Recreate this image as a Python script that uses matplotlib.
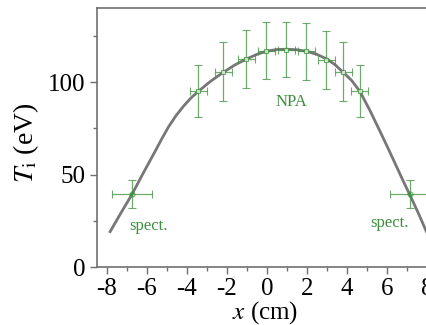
import matplotlib
matplotlib.use("Agg")
import matplotlib.pyplot as plt
from matplotlib.ticker import MultipleLocator

plt.rcParams["font.family"] = ["Liberation Serif", "DejaVu Serif"]
plt.rcParams["mathtext.fontset"] = "stix"

# NPA measurements
npa_x = [-3.42, -2.18, -1.02, -0.02, 0.98, 1.98, 2.98, 3.82, 4.65]
npa_T = [95.0, 105.6, 112.5, 117.0, 117.6, 116.7, 112.0, 105.6, 95.3]
npa_Terr = [14.0, 16.0, 15.7, 15.4, 15.0, 15.4, 15.7, 16.0, 14.0]
npa_xerr = [0.42, 0.42, 0.42, 0.42, 0.42, 0.42, 0.42, 0.42, 0.42]

# spectroscopy
spect_x = [-6.77, 7.15]
spect_T = [39.5, 39.5]
spect_Terr = [7.7, 7.7]
spect_xerr = [1.0, 1.0]

# fitted profile
fit_x = [-7.84, -7.3, -6.75, -6.15, -5.58, -5.25, -4.92, -4.55, -4.17, -3.8,
         -3.42, -2.8, -2.18, -1.6, -1.02, -0.5, -0.02, 0.48, 0.98, 1.48, 1.98,
         2.5, 3.0, 3.42, 3.82, 4.25, 4.65, 5.15, 5.65, 6.05, 6.48, 6.8, 7.15,
         7.55, 7.98]
fit_T = [19.2, 29.3, 39.3, 51.5, 62.8, 69.5, 75.8, 81.8, 87.0, 91.4,
         95.1, 100.6, 105.3, 109.3, 112.5, 115.0, 116.7, 117.6, 117.8, 117.5, 116.7,
         115.0, 112.5, 109.3, 105.3, 100.8, 95.0, 84.8, 73.6, 64.5, 54.5, 47.0, 39.1,
         29.8, 19.2]

green = "#3d8f3d"
spine = "#707070"

fig = plt.figure(figsize=(4.27, 3.25), dpi=100)
ax = fig.add_axes([0.227, 0.178, 0.796, 0.797])

ax.plot(fit_x, fit_T, "-", color="#777777", lw=2.0, zorder=2)

ax.errorbar(npa_x, npa_T, yerr=npa_Terr, xerr=npa_xerr, fmt="s", ms=3.5,
            mfc="white", mec=green, mew=0.8, ecolor=green, elinewidth=0.9,
            capsize=3, capthick=0.9, alpha=0.75, zorder=3)
ax.errorbar(spect_x, spect_T, yerr=spect_Terr, xerr=spect_xerr, fmt="o", ms=3.5,
            mfc="none", mec=green, mew=0.8, ecolor=green, elinewidth=0.9,
            capsize=3, capthick=0.9, alpha=0.75, zorder=3)

ax.text(1.23, 89.5, "NPA", color=green, fontsize=12, ha="center", va="center")
ax.text(-5.93, 22.0, "spect.", color=green, fontsize=12, ha="center", va="center")
ax.text(6.15, 24.0, "spect.", color=green, fontsize=12, ha="center", va="center")

ax.set_xlim(-8.5, 8.5)
ax.set_ylim(0, 140)
ax.xaxis.set_major_locator(MultipleLocator(2))
ax.xaxis.set_minor_locator(MultipleLocator(1))
ax.yaxis.set_major_locator(MultipleLocator(50))
ax.yaxis.set_minor_locator(MultipleLocator(25))
ax.tick_params(which="both", direction="out", colors=spine, labelcolor="black",
               labelsize=18, top=False, right=False)
ax.tick_params(which="major", length=5, width=1)
ax.tick_params(which="minor", length=3, width=1)
ax.tick_params(axis="x", pad=3)
ax.set_xticks(range(-8, 9, 2))
ax.set_xticklabels([str(v) for v in range(-8, 9, 2)])
for s in ax.spines.values():
    s.set_color(spine)
    s.set_linewidth(1.2)

ax.set_xlabel("$x$ (cm)", fontsize=18)
ax.set_ylabel("$T_{\\rm i}$ (eV)", fontsize=20)
ax.xaxis.set_label_coords(0.494, -0.122)
ax.yaxis.set_label_coords(-0.165, 0.48)

fig.savefig("out.png", dpi=100)
